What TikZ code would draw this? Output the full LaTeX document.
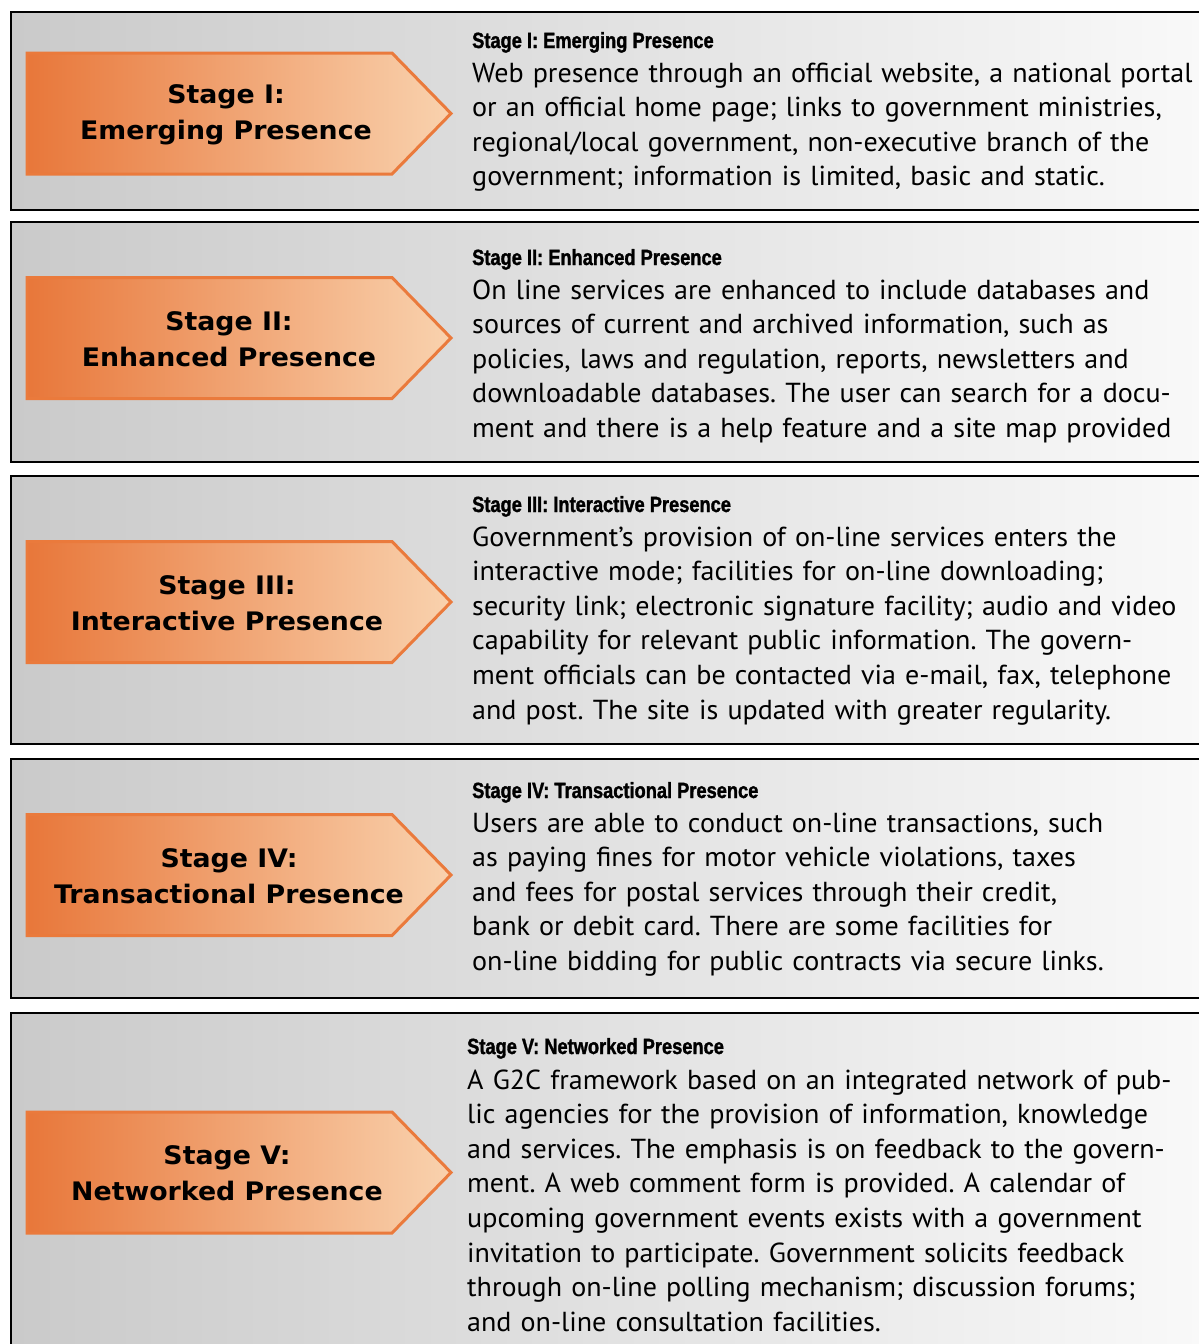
\documentclass[tikz,border=0pt]{standalone}
\usepackage{fontspec}
\setmainfont[FakeStretch=1.02]{PT Sans}
\newfontfamily\headfont[FakeStretch=0.83,FakeBold=1.4]{Liberation Sans Bold}
\newfontfamily\arrowfont[FakeStretch=1.05]{DejaVu Sans Bold}
\definecolor{panelL}{HTML}{CACACA}
\definecolor{panelR}{HTML}{FAFAFA}
\definecolor{arrL}{HTML}{E8773A}
\definecolor{arrR}{HTML}{F9D2AE}
\definecolor{arrEdge}{HTML}{EA7A3C}
\tikzset{
  panelbox/.style={left color=panelL, right color=panelR, draw=black, line width=2.6pt},
  stagearrow/.style={left color=arrL, right color=arrR, draw=arrEdge, line width=3pt, line join=miter},
  arrowtext/.style={font=\arrowfont\fontsize{25.5}{36}\selectfont, align=center, inner sep=0pt, text=black},
  headtext/.style={font=\headfont\fontsize{22}{25}\selectfont, anchor=base west, inner sep=0pt},
  bodytext/.style={font=\frenchspacing\fontsize{27.5}{34.6}\selectfont, anchor=base west, inner sep=0pt, text width=800pt, align=left},
}
\newcommand\panelrect[2]{\path[panelbox] (1230,#1) -- (11,#1) -- (11,#2) -- (1230,#2);}
\newcommand\arrowshape[1]{\path[stagearrow] (27,#1-60.5) -- (392,#1-60.5) -- (451,#1) -- (392,#1+60.5) -- (27,#1+60.5) -- cycle;}
\begin{document}
\begin{tikzpicture}[x=1pt,y=-1pt]
\clip (0,0) rectangle (1199,1344);
\fill[white] (0,0) rectangle (1199,1344);
% Panel 1
\panelrect{12}{210}
\arrowshape{113.5}
\node[arrowtext] (a1) at (226,114.5) {Stage I:\\Emerging Presence};
\node[headtext] (h1) at (472,48) {Stage I: Emerging Presence};
\node[bodytext] (b1) at (472,82) {Web presence through an official website, a national portal\\
or an official home page; links to government ministries,\\
regional/local government, non-executive branch of the\\
government; information is limited, basic and static.};
% Panel 2
\panelrect{222}{462}
\arrowshape{338}
\node[arrowtext] (a2) at (229,339) {Stage II:\\Enhanced Presence};
\node[headtext] (h2) at (472,265) {Stage II: Enhanced Presence};
\node[bodytext] (b2) at (472,299) {On line services are enhanced to include databases and\\
sources of current and archived information, such as\\
policies, laws and regulation, reports, newsletters and\\
downloadable databases. The user can search for a docu-\\
ment and there is a help feature and a site map provided};
% Panel 3
\panelrect{476}{744}
\arrowshape{602}
\node[arrowtext] (a3) at (227,603) {Stage III:\\Interactive Presence};
\node[headtext] (h3) at (472,512) {Stage III: Interactive Presence};
\node[bodytext] (b3) at (472,546) {Government’s provision of on-line services enters the\\
interactive mode; facilities for on-line downloading;\\
security link; electronic signature facility; audio and video\\
capability for relevant public information. The govern-\\
ment officials can be contacted via e-mail, fax, telephone\\
and post. The site is updated with greater regularity.};
% Panel 4
\panelrect{759}{998}
\arrowshape{875}
\node[arrowtext] (a4) at (229,876) {Stage IV:\\Transactional Presence};
\node[headtext] (h4) at (472,798) {Stage IV: Transactional Presence};
\node[bodytext] (b4) at (472,832) {Users are able to conduct on-line transactions, such\\
as paying fines for motor vehicle violations, taxes\\
and fees for postal services through their credit,\\
bank or debit card. There are some facilities for\\
on-line bidding for public contracts via secure links.};
% Panel 5
\panelrect{1013}{1380}
\arrowshape{1172.5}
\node[arrowtext] (a5) at (227,1173.5) {Stage V:\\Networked Presence};
\node[headtext] (h5) at (467,1054) {Stage V: Networked Presence};
\node[bodytext] (b5) at (467,1089) {A G2C framework based on an integrated network of pub-\\
lic agencies for the provision of information, knowledge\\
and services. The emphasis is on feedback to the govern-\\
ment. A web comment form is provided. A calendar of\\
upcoming government events exists with a government\\
invitation to participate. Government solicits feedback\\
through on-line polling mechanism; discussion forums;\\
and on-line consultation facilities.};
\end{tikzpicture}
\end{document}
